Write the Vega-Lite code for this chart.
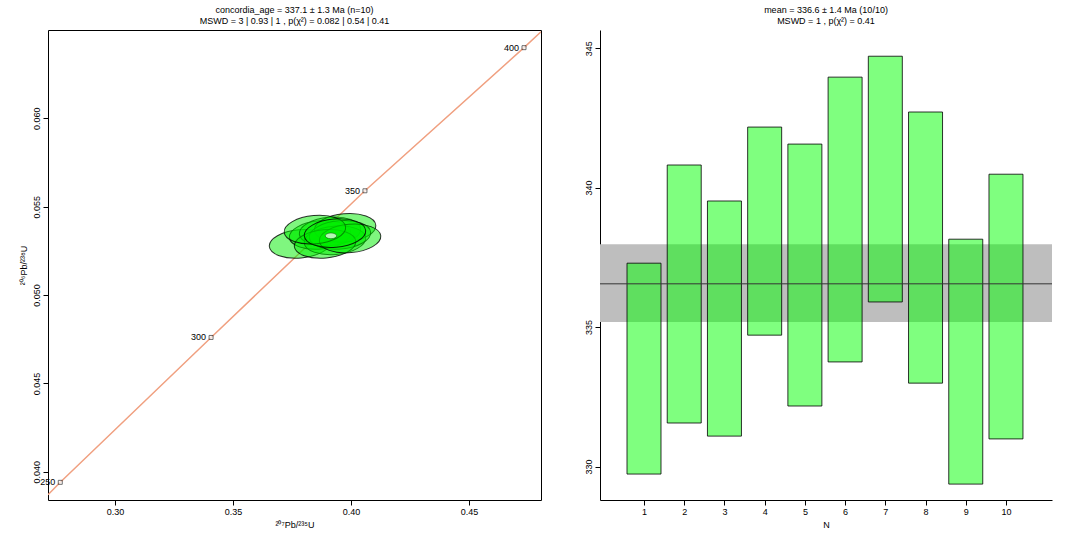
{
  "$schema": "https://vega.github.io/schema/vega-lite/v6.json",
  "background": "white",
  "padding": {"left": 18, "top": 5, "right": 20, "bottom": 5},
  "spacing": 42,
  "config": {
    "font": "Liberation Sans",
    "view": {"stroke": null},
    "axis": {"labelFontSize": 9, "titleFontSize": 9, "grid": false, "tickColor": "black", "domainColor": "black", "labelColor": "black", "titleColor": "black", "titleFontWeight": "normal"},
    "title": {"fontSize": 9, "fontWeight": "normal", "anchor": "middle", "offset": 4}
  },
  "hconcat": [
    {
      "width": 493,
      "height": 470,
      "title": {"text": ["concordia_age = 337.1 ± 1.3 Ma  (n=10)", "MSWD = 3  |  0.93  |  1 , p(χ²) = 0.082  |  0.54  |  0.41"], "lineHeight": 11},
      "view": {"stroke": "black"},
      "layer": [
        {
          "data": {"values": [
            {"x": 0.2716, "y": 0.0387}, {"x": 0.2768, "y": 0.0394}, {"x": 0.3407, "y": 0.0476},
            {"x": 0.4059, "y": 0.0559}, {"x": 0.4733, "y": 0.0640}, {"x": 0.4805, "y": 0.0649}
          ]},
          "mark": {"type": "line", "color": "#f0a080", "strokeWidth": 1.5, "clip": true},
          "encoding": {
            "x": {"field": "x", "type": "quantitative", "scale": {"domain": [0.2716, 0.4805], "nice": false, "zero": false},
              "axis": {"values": [0.30, 0.35, 0.40, 0.45], "format": ".2f", "title": "²⁰⁷Pb/²³⁵U", "domain": false}},
            "y": {"field": "y", "type": "quantitative", "scale": {"domain": [0.0384, 0.065], "nice": false, "zero": false},
              "axis": {"values": [0.040, 0.045, 0.050, 0.055, 0.060], "format": ".3f", "labelAngle": -90, "labelAlign": "center", "labelBaseline": "bottom", "title": "²⁰⁶Pb/²³⁸U", "domain": false}}
          }
        },
        {
          "data": {"values": [
            {"x": 0.3784, "y": 0.0529},
            {"x": 0.3869, "y": 0.0534},
            {"x": 0.3911, "y": 0.0536},
            {"x": 0.3975, "y": 0.0538},
            {"x": 0.3932, "y": 0.0531},
            {"x": 0.3953, "y": 0.0534},
            {"x": 0.3890, "y": 0.0529},
            {"x": 0.3996, "y": 0.0532},
            {"x": 0.3847, "y": 0.0537},
            {"x": 0.3932, "y": 0.0535}
          ]},
          "mark": {"type": "point", "filled": true, "shape": "M -1 0 A 1 0.46 0 1 1 1 0 A 1 0.46 0 1 1 -1 0 Z", "size": 3800, "angle": -5, "fill": "#00ee00", "fillOpacity": 0.5, "stroke": "black", "strokeWidth": 1, "strokeOpacity": 0.8},
          "encoding": {
            "x": {"field": "x", "type": "quantitative"},
            "y": {"field": "y", "type": "quantitative"}
          }
        },
        {
          "data": {"values": [{"x": 0.3915, "y": 0.05335}]},
          "mark": {"type": "point", "filled": true, "shape": "M -1 0 A 1 0.5 0 1 1 1 0 A 1 0.5 0 1 1 -1 0 Z", "size": 130, "fill": "white", "stroke": "black", "strokeWidth": 0.5},
          "encoding": {
            "x": {"field": "x", "type": "quantitative"},
            "y": {"field": "y", "type": "quantitative"}
          }
        },
        {
          "data": {"values": [
            {"x": 0.2768, "y": 0.0394, "age": "250"}, {"x": 0.3407, "y": 0.0476, "age": "300"},
            {"x": 0.4059, "y": 0.0559, "age": "350"}, {"x": 0.4733, "y": 0.0640, "age": "400"}
          ]},
          "layer": [
            {"mark": {"type": "square", "filled": true, "fill": "white", "stroke": "black", "strokeWidth": 0.8, "size": 16},
             "encoding": {"x": {"field": "x", "type": "quantitative"}, "y": {"field": "y", "type": "quantitative"}}},
            {"mark": {"type": "text", "align": "right", "dx": -5, "fontSize": 9, "color": "black"},
             "encoding": {"x": {"field": "x", "type": "quantitative"}, "y": {"field": "y", "type": "quantitative"}, "text": {"field": "age"}}}
          ]
        }
      ]
    },
    {
      "width": 452,
      "height": 470,
      "title": {"text": ["mean = 336.6 ± 1.4 Ma  (10/10)", "MSWD = 1 , p(χ²) = 0.41"], "lineHeight": 11},
      "layer": [
        {
          "data": {"values": [{"lo": 335.18, "hi": 337.97}]},
          "mark": {"type": "rect", "color": "#bebebe"},
          "encoding": {
            "y": {"field": "lo", "type": "quantitative", "scale": {"domain": [328.8, 345.65], "nice": false, "zero": false},
              "axis": {"values": [330, 335, 340, 345], "labelAngle": -90, "labelAlign": "center", "labelBaseline": "bottom", "title": null}},
            "y2": {"field": "hi"}
          }
        },
        {
          "data": {"values": [
            {"N": 1, "lo": 329.73, "hi": 337.29},
            {"N": 2, "lo": 331.56, "hi": 340.81},
            {"N": 3, "lo": 331.09, "hi": 339.52},
            {"N": 4, "lo": 334.71, "hi": 342.17},
            {"N": 5, "lo": 332.17, "hi": 341.56},
            {"N": 6, "lo": 333.75, "hi": 343.96},
            {"N": 7, "lo": 335.90, "hi": 344.71},
            {"N": 8, "lo": 332.99, "hi": 342.71},
            {"N": 9, "lo": 329.37, "hi": 338.15},
            {"N": 10, "lo": 330.99, "hi": 340.48}
          ]},
          "mark": {"type": "bar", "width": 34, "fill": "#00ff00", "fillOpacity": 0.5, "stroke": "black", "strokeWidth": 0.8},
          "encoding": {
            "x": {"field": "N", "type": "quantitative", "scale": {"domain": [0.03, 11.02], "nice": false, "zero": false},
              "axis": {"values": [1, 2, 3, 4, 5, 6, 7, 8, 9, 10], "title": "N"}},
            "y": {"field": "lo", "type": "quantitative"},
            "y2": {"field": "hi"}
          }
        },
        {
          "data": {"values": [{"m": 336.55}]},
          "mark": {"type": "rule", "color": "#333333", "strokeWidth": 1},
          "encoding": {"y": {"field": "m", "type": "quantitative"}}
        }
      ]
    }
  ]
}
